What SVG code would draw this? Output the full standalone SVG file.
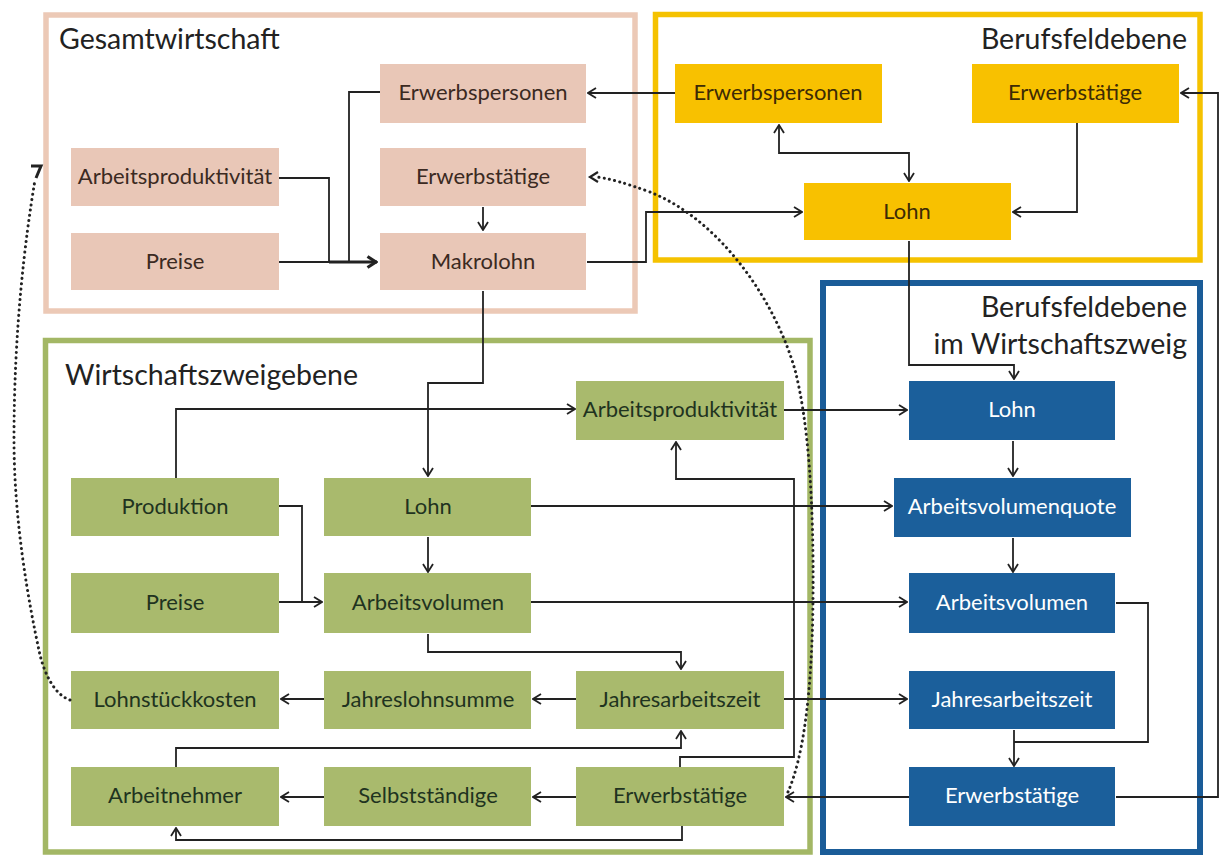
<svg xmlns="http://www.w3.org/2000/svg" width="1219" height="855" viewBox="0 0 1219 855">
<defs>
<style>
.panel{fill:none}
.pk{fill:#e9c7b7}
.yl{fill:#f8c100}
.bl{fill:#1b5f9b}
.gr{fill:#a9ba6d}
text{font-family:Lato,"Liberation Sans",sans-serif}
.t{font-size:22px;text-anchor:middle}
.tpk{fill:#3b2a22}
.tyl{fill:#3d2b05}
.tbl{fill:#ffffff}
.tgr{fill:#1f3320}
.title{font-size:28.5px;fill:#222}
.c{fill:none;stroke:#222;stroke-width:1.8}
.d{fill:none;stroke:#222;stroke-width:3;stroke-linecap:round;stroke-dasharray:0.1 5.2}
</style>
<marker id="a" viewBox="0 0 10 12" refX="9" refY="6" markerWidth="10" markerHeight="12" markerUnits="userSpaceOnUse" orient="auto-start-reverse">
<path d="M1,1 L9,6 L1,11" fill="none" stroke="#222" stroke-width="1.8"/>
</marker>
<marker id="b" viewBox="0 0 12 14" refX="11" refY="7" markerWidth="12" markerHeight="14" markerUnits="userSpaceOnUse" orient="auto">
<path d="M1.5,1.5 L10,7 L1.5,12.5" fill="none" stroke="#222" stroke-width="3.2"/>
</marker>
</defs>

<g id="panels">
<rect id="p_gesamt" class="panel" x="46" y="15" width="589" height="296" stroke="#ecc9b6" stroke-width="5.5"/>
<rect id="p_beruf" class="panel" x="655.5" y="14.5" width="544.5" height="245.5" stroke="#f5c200" stroke-width="5.5"/>
<rect id="p_wz" class="panel" x="45.5" y="340.5" width="764.5" height="511.5" stroke="#a3b765" stroke-width="5.5"/>
<rect id="p_bwz" class="panel" x="823" y="283" width="377" height="569" stroke="#1a5c98" stroke-width="6"/>
<text class="title" x="59" y="49">Gesamtwirtschaft</text>
<text class="title" x="1187" y="49" text-anchor="end">Berufsfeldebene</text>
<text class="title" x="1187" y="317" text-anchor="end">Berufsfeldebene</text>
<text class="title" x="1187" y="354" text-anchor="end">im Wirtschaftszweig</text>
<text class="title" x="65" y="385">Wirtschaftszweigebene</text>
</g>

<g id="n_gw_erwp"><rect class="pk" x="380" y="64" width="206" height="59"/><text class="t tpk" x="483" y="100">Erwerbspersonen</text></g>
<g id="n_gw_arbp"><rect class="pk" x="71" y="148" width="208" height="58"/><text class="t tpk" x="175" y="184">Arbeitsproduktivität</text></g>
<g id="n_gw_erwt"><rect class="pk" x="380" y="148" width="206" height="58"/><text class="t tpk" x="483" y="184">Erwerbstätige</text></g>
<g id="n_gw_preise"><rect class="pk" x="71" y="233" width="208" height="57"/><text class="t tpk" x="175" y="269">Preise</text></g>
<g id="n_gw_makro"><rect class="pk" x="380" y="233" width="206" height="57"/><text class="t tpk" x="483" y="269">Makrolohn</text></g>

<g id="n_bf_erwp"><rect class="yl" x="675" y="64" width="207" height="59"/><text class="t tyl" x="778" y="100">Erwerbspersonen</text></g>
<g id="n_bf_erwt"><rect class="yl" x="972" y="64" width="207" height="59"/><text class="t tyl" x="1075" y="100">Erwerbstätige</text></g>
<g id="n_bf_lohn"><rect class="yl" x="804" y="183" width="207" height="57"/><text class="t tyl" x="907" y="219">Lohn</text></g>

<g id="n_bw_lohn"><rect class="bl" x="909" y="381" width="206" height="59"/><text class="t tbl" x="1012" y="417">Lohn</text></g>
<g id="n_bw_avq"><rect class="bl" x="894" y="478" width="237" height="59"/><text class="t tbl" x="1012" y="514">Arbeitsvolumenquote</text></g>
<g id="n_bw_av"><rect class="bl" x="909" y="573" width="206" height="60"/><text class="t tbl" x="1012" y="610">Arbeitsvolumen</text></g>
<g id="n_bw_jaz"><rect class="bl" x="909" y="671" width="206" height="58"/><text class="t tbl" x="1012" y="707">Jahresarbeitszeit</text></g>
<g id="n_bw_erwt"><rect class="bl" x="909" y="767" width="206" height="59"/><text class="t tbl" x="1012" y="803">Erwerbstätige</text></g>

<g id="n_wz_arbp"><rect class="gr" x="576" y="381" width="208" height="59"/><text class="t tgr" x="680" y="417">Arbeitsproduktivität</text></g>
<g id="n_wz_prod"><rect class="gr" x="71" y="478" width="208" height="58"/><text class="t tgr" x="175" y="514">Produktion</text></g>
<g id="n_wz_lohn"><rect class="gr" x="324" y="478" width="207" height="58"/><text class="t tgr" x="428" y="514">Lohn</text></g>
<g id="n_wz_preise"><rect class="gr" x="71" y="573" width="208" height="60"/><text class="t tgr" x="175" y="610">Preise</text></g>
<g id="n_wz_av"><rect class="gr" x="324" y="573" width="207" height="60"/><text class="t tgr" x="428" y="610">Arbeitsvolumen</text></g>
<g id="n_wz_lsk"><rect class="gr" x="71" y="671" width="208" height="58"/><text class="t tgr" x="175" y="707">Lohnstückkosten</text></g>
<g id="n_wz_jls"><rect class="gr" x="324" y="671" width="207" height="58"/><text class="t tgr" x="428" y="707">Jahreslohnsumme</text></g>
<g id="n_wz_jaz"><rect class="gr" x="576" y="671" width="208" height="58"/><text class="t tgr" x="680" y="707">Jahresarbeitszeit</text></g>
<g id="n_wz_an"><rect class="gr" x="71" y="767" width="208" height="59"/><text class="t tgr" x="175" y="803">Arbeitnehmer</text></g>
<g id="n_wz_selb"><rect class="gr" x="324" y="767" width="207" height="59"/><text class="t tgr" x="428" y="803">Selbstständige</text></g>
<g id="n_wz_erwt"><rect class="gr" x="576" y="767" width="208" height="59"/><text class="t tgr" x="680" y="803">Erwerbstätige</text></g>

<g id="connectors">
<path class="c" d="M675,93 L588,93" marker-end="url(#a)"/>
<path class="c" d="M380,92 L349,92 L349,262"/>
<path class="c" d="M279,178 L329,178 L329,262"/>
<path class="c" d="M279,262 L329,262"/>
<path class="c" d="M329,262 L377,262" style="stroke-width:3.2" marker-end="url(#b)"/>
<path class="c" d="M483,207 L483,230" marker-end="url(#a)"/>
<path class="c" d="M587,262 L646,262 L646,212 L802,212" marker-end="url(#a)"/>
<path class="c" d="M483,291 L483,383 L428,383 L428,476" marker-end="url(#a)"/>
<path class="c" d="M779,125 L779,153 L909,153 L909,181" marker-start="url(#a)" marker-end="url(#a)"/>
<path class="c" d="M1077,123 L1077,212 L1013,212" marker-end="url(#a)"/>
<path class="c" d="M1116,797 L1218,797 L1218,93 L1181,93" marker-end="url(#a)"/>
<path class="c" d="M909,241 L909,365 L1014,365 L1014,379" marker-end="url(#a)"/>
<path class="c" d="M1013,441 L1013,476" marker-end="url(#a)"/>
<path class="c" d="M1013,538 L1013,572" marker-end="url(#a)"/>
<path class="c" d="M1116,603 L1148,603 L1148,742 L1014,742"/>
<path class="c" d="M1014,730 L1014,766" marker-end="url(#a)"/>
<path class="c" d="M909,797 L786,797" marker-end="url(#a)"/>
<path class="c" d="M784,410 L907,410" marker-end="url(#a)"/>
<path class="c" d="M176,478 L176,409 L575,409" marker-end="url(#a)"/>
<path class="c" d="M531,506 L892,506" marker-end="url(#a)"/>
<path class="c" d="M428,537 L428,572" marker-end="url(#a)"/>
<path class="c" d="M279,506 L302,506 L302,602"/>
<path class="c" d="M279,602 L322,602" marker-end="url(#a)"/>
<path class="c" d="M531,602 L907,602" marker-end="url(#a)"/>
<path class="c" d="M428,634 L428,652 L681,652 L681,669" marker-end="url(#a)"/>
<path class="c" d="M576,699 L533,699" marker-end="url(#a)"/>
<path class="c" d="M324,699 L281,699" marker-end="url(#a)"/>
<path class="c" d="M784,699 L907,699" marker-end="url(#a)"/>
<path class="c" d="M176,767 L176,748 L681,748 L681,731" marker-end="url(#a)"/>
<path class="c" d="M680,767 L680,757 L794,757 L794,479 L676,479 L676,442" marker-end="url(#a)"/>
<path class="c" d="M682,826 L682,840 L176,840 L176,828" marker-end="url(#a)"/>
<path class="c" d="M576,797 L533,797" marker-end="url(#a)"/>
<path class="c" d="M324,797 L281,797" marker-end="url(#a)"/>
<path class="d" d="M788,792 C802,760 812,700 813,600 C814,500 808,420 795,370 C775,300 720,220 650,192 C625,183 608,178 596,177"/>
<path class="c" d="M598,172 L590,177 L598,182" style="stroke-width:2.2"/>
<path class="d" d="M70,700 C55,695 45,675 40,655 C28,600 14,520 14,440 C14,330 25,240 35,180"/>
<path class="c" d="M31,166 L41,166 L36,178" style="stroke-width:3"/>
</g>
</svg>
